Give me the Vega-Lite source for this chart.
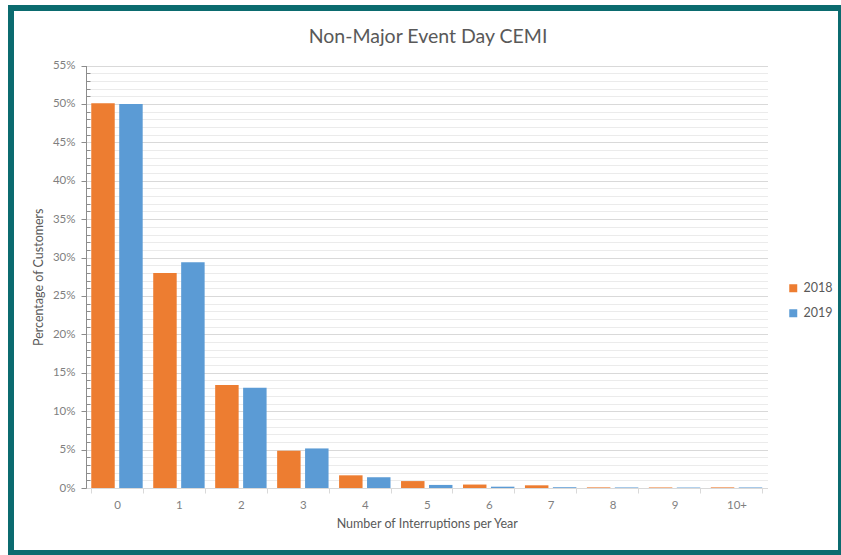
{
  "$schema": "https://vega.github.io/schema/vega-lite/v6.json",
  "width": 830,
  "height": 545,
  "autosize": {"type": "none"},
  "padding": {"left": 11, "top": 8, "right": 0, "bottom": 2},
  "background": "white",
  "view": {"stroke": "#0b6b6f", "strokeWidth": 6, "fill": "white"},
  "title": {"text": "Non-Major Event Day CEMI", "offset": -39, "anchor": "middle", "frame": "group", "dx": 2, "font": "Lato", "fontSize": 19.5, "fontWeight": "normal", "color": "#595959"},
  "data": {"values": [
    {"interruptions": "0", "year": "2018", "pct": 50.1},
    {"interruptions": "0", "year": "2019", "pct": 50.0},
    {"interruptions": "1", "year": "2018", "pct": 28.0},
    {"interruptions": "1", "year": "2019", "pct": 29.4},
    {"interruptions": "2", "year": "2018", "pct": 13.4},
    {"interruptions": "2", "year": "2019", "pct": 13.05},
    {"interruptions": "3", "year": "2018", "pct": 4.85},
    {"interruptions": "3", "year": "2019", "pct": 5.15},
    {"interruptions": "4", "year": "2018", "pct": 1.65},
    {"interruptions": "4", "year": "2019", "pct": 1.4},
    {"interruptions": "5", "year": "2018", "pct": 0.9},
    {"interruptions": "5", "year": "2019", "pct": 0.4},
    {"interruptions": "6", "year": "2018", "pct": 0.45},
    {"interruptions": "6", "year": "2019", "pct": 0.17},
    {"interruptions": "7", "year": "2018", "pct": 0.35},
    {"interruptions": "7", "year": "2019", "pct": 0.1},
    {"interruptions": "8", "year": "2018", "pct": 0.08},
    {"interruptions": "8", "year": "2019", "pct": 0.07},
    {"interruptions": "9", "year": "2018", "pct": 0.07},
    {"interruptions": "9", "year": "2019", "pct": 0.06},
    {"interruptions": "10+", "year": "2018", "pct": 0.08},
    {"interruptions": "10+", "year": "2019", "pct": 0.07}
  ]},
  "mark": {"type": "bar"},
  "encoding": {
    "x": {
      "field": "interruptions", "type": "nominal", "sort": null,
      "scale": {"range": [75, 756.5], "paddingInner": 0.17, "paddingOuter": 0.085},
      "axis": {
        "offset": -65, "title": "Number of Interruptions per Year", "labelAngle": 0,
        "tickBand": "extent", "domainColor": "#d9d9d9", "tickColor": "#d9d9d9", "tickSize": 5,
        "labelColor": "#7f7f7f", "labelFont": "Lato", "labelFontSize": 11.5, "labelPadding": 6,
        "titleFont": "Lato", "titleFontSize": 12.5, "titleFontWeight": "normal", "titleColor": "#595959", "titlePadding": 7,
        "grid": false
      }
    },
    "xOffset": {"field": "year", "type": "nominal", "scale": {"paddingInner": 0.16}},
    "y": {
      "field": "pct", "type": "quantitative",
      "scale": {"domain": [0, 55], "range": [480, 57.5], "nice": false},
      "axis": {
        "values": [0,1,2,3,4,5,6,7,8,9,10,11,12,13,14,15,16,17,18,19,20,21,22,23,24,25,26,27,28,29,30,31,32,33,34,35,36,37,38,39,40,41,42,43,44,45,46,47,48,49,50,51,52,53,54,55],
        "labelExpr": "datum.value % 5 === 0 ? datum.value + '%' : ''",
        "labelOverlap": false,
        "offset": -75,
        "title": "Percentage of Customers",
        "grid": true,
        "gridColor": {"condition": {"test": "datum.value % 5 === 0", "value": "#d9d9d9"}, "value": "#ebebeb"},
        "tickSize": {"condition": {"test": "datum.value % 5 === 0", "value": 5}, "value": -4},
        "tickColor": "#8c8c8c", "domainColor": "#8c8c8c",
        "labelColor": "#7f7f7f", "labelFont": "Lato", "labelFontSize": 11.5, "labelPadding": 6,
        "titleFont": "Lato", "titleFontSize": 12.5, "titleFontWeight": "normal", "titleColor": "#595959", "titlePadding": 7
      }
    },
    "color": {
      "field": "year", "type": "nominal",
      "scale": {"range": ["#ED7D31", "#5B9BD5"]},
      "legend": {"orient": "none", "legendX": 776, "legendY": 274, "title": null, "symbolType": "square", "symbolSize": 64, "symbolStrokeWidth": 0, "labelFont": "Lato", "labelFontSize": 12.5, "labelColor": "#595959", "labelOffset": 4, "rowPadding": 12}
    }
  }
}
